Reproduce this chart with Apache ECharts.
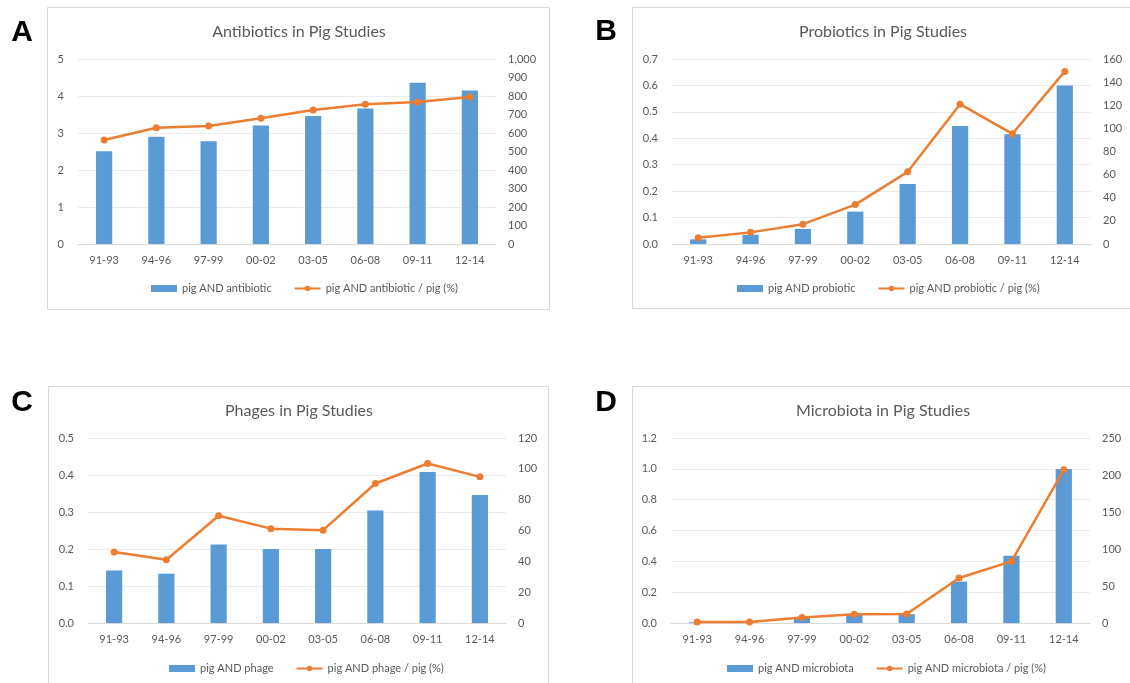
<!DOCTYPE html>
<html><head><meta charset="utf-8">
<script src="https://cdn.jsdelivr.net/npm/echarts@6/dist/echarts.min.js"></script>
<style>html,body{margin:0;padding:0;background:#fff}#c{width:1130px;height:683px}</style>
</head><body><div id="c"></div>
<script>
const categories = ['91-93','94-96','97-99','00-02','03-05','06-08','09-11','12-14'];
const antibioticCount = [502,580,556,640,692,732,872,830];
const antibioticPct = [2.81,3.14,3.19,3.40,3.62,3.78,3.84,3.97];
const probioticCount = [4,8,13,28,52,102,95,137];
const probioticPct = [0.024,0.044,0.075,0.149,0.273,0.529,0.417,0.653];
const phageCount = [34,32,51,48,48,73,98,83];
const phagePct = [0.192,0.171,0.290,0.255,0.251,0.377,0.431,0.395];
const microbiotaCount = [1,1,7,11,12,56,91,208];
const microbiotaPct = [0.006,0.006,0.035,0.056,0.058,0.292,0.400,0.994];

const FONT = 'Lato, "Open Sans", sans-serif';
const GREY = '#595959';
const BLUE = '#5B9BD5';
const ORANGE = '#ED7D31';

const panels = [
  {letter:'A', title:'Antibiotics in Pig Studies', term:'antibiotic', count:antibioticCount, pct:antibioticPct,
   lmax:5, lint:1, ldec:0, rmax:1000, rint:100, box:[47,7,502,302], grid:[78,59,418,185],
   titlePos:[299,32], letterPos:[22,33], legend:[146,278]},
  {letter:'B', title:'Probiotics in Pig Studies', term:'probiotic', count:probioticCount, pct:probioticPct,
   lmax:0.7, lint:0.1, ldec:1, rmax:160, rint:20, box:[632,7,510,301], grid:[672,59,419,185],
   titlePos:[883,32], letterPos:[606,32], legend:[732,278]},
  {letter:'C', title:'Phages in Pig Studies', term:'phage', count:phageCount, pct:phagePct,
   lmax:0.5, lint:0.1, ldec:1, rmax:120, rint:20, box:[48,386,500,310], grid:[88,438,418,185],
   titlePos:[299,411], letterPos:[22,403], legend:[164,658]},
  {letter:'D', title:'Microbiota in Pig Studies', term:'microbiota', count:microbiotaCount, pct:microbiotaPct,
   lmax:1.2, lint:0.2, ldec:1, rmax:250, rint:50, box:[632,386,510,310], grid:[671,438,419,185],
   titlePos:[883,411], letterPos:[606,403], legend:[722,658]}
];

const grid = [], xAxis = [], yAxis = [], series = [], legend = [], graphic = [];
panels.forEach((p, i) => {
  graphic.push({type:'rect', shape:{x:p.box[0]+0.5, y:p.box[1]+0.5, width:p.box[2], height:p.box[3]},
    style:{fill:'#fff', stroke:'#d9d9d9', lineWidth:1}, z:-10});
  graphic.push({type:'text', x:p.titlePos[0], y:p.titlePos[1],
    style:{text:p.title, fill:GREY, font:'16px ' + FONT, align:'center', verticalAlign:'middle'}});
  graphic.push({type:'text', x:p.letterPos[0], y:p.letterPos[1],
    style:{text:p.letter, fill:'#000', font:'bold 30px "Liberation Sans", Arial, sans-serif', align:'center', verticalAlign:'middle'}});
  grid.push({left:p.grid[0], top:p.grid[1], width:p.grid[2], height:p.grid[3], containLabel:false});
  xAxis.push({type:'category', gridIndex:i, data:categories,
    axisLine:{show:true, lineStyle:{color:'#d9d9d9'}}, axisTick:{show:false},
    axisLabel:{color:GREY, fontFamily:FONT, fontSize:11, margin:11}});
  yAxis.push({type:'value', gridIndex:i, position:'left', min:0, max:p.lmax, interval:p.lint,
    axisLine:{show:false}, axisTick:{show:false},
    axisLabel:{color:GREY, fontFamily:FONT, fontSize:11, margin:14, formatter:v => v.toFixed(p.ldec)},
    splitLine:{show:true, lineStyle:{color:'#ebebeb'}}});
  yAxis.push({type:'value', gridIndex:i, position:'right', min:0, max:p.rmax, interval:p.rint,
    axisLine:{show:false}, axisTick:{show:false},
    axisLabel:{color:GREY, fontFamily:FONT, fontSize:11, margin:12, formatter:v => v.toLocaleString('en-US')},
    splitLine:{show:false}});
  const barName = 'pig AND ' + p.term;
  const lineName = 'pig AND ' + p.term + ' / pig (%)';
  series.push({type:'bar', name:barName, xAxisIndex:i, yAxisIndex:2*i+1, data:p.count,
    barWidth:'31%', itemStyle:{color:BLUE}});
  series.push({type:'line', name:lineName, xAxisIndex:i, yAxisIndex:2*i, data:p.pct,
    symbol:'circle', symbolSize:7, lineStyle:{color:ORANGE, width:2.5}, itemStyle:{color:ORANGE}, z:3});
  legend.push({left:p.legend[0], top:p.legend[1], data:[{name:barName, icon:'rect'}, {name:lineName}],
    itemWidth:26, itemHeight:7, itemGap:22,
    textStyle:{color:GREY, fontFamily:FONT, fontSize:11}});
});

const chart = echarts.init(document.getElementById('c'), null, {renderer:'canvas'});
chart.setOption({animation:false, backgroundColor:'#fff', grid, xAxis, yAxis, series, legend, graphic});
</script>
</body></html>
